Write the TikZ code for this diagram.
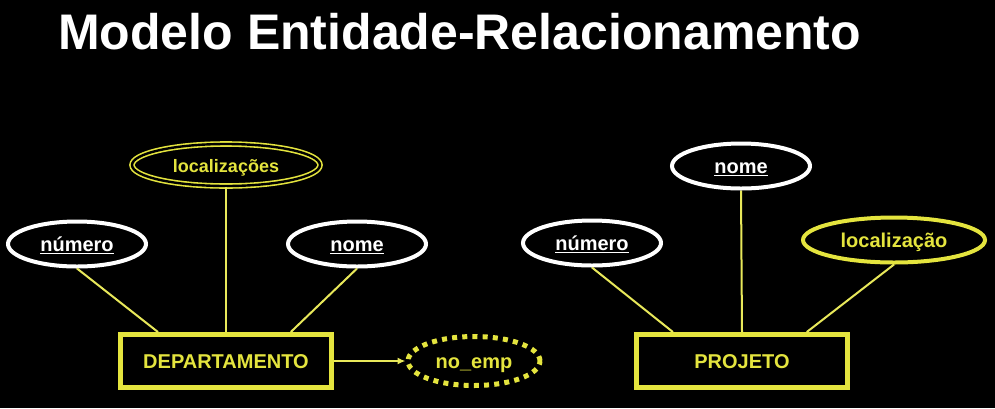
\documentclass[tikz,border=0pt]{standalone}
\usepackage{fontspec}
\setmainfont{Liberation Sans}
\usepackage{tikz}
\usetikzlibrary{arrows.meta,positioning,calc,shapes.geometric}
\definecolor{erYellow}{RGB}{228,228,62}
\definecolor{erLine}{RGB}{232,232,90}
\tikzset{
  attr/.style={draw=white, ellipse, line width=4pt, inner sep=0pt,
               minimum width=138pt, minimum height=45pt, text=white,
               text height=15pt, text depth=0pt,
               font=\fontsize{20}{24}\selectfont\bfseries},
  multiattr/.style={draw=erYellow, ellipse, double=black, line width=1.6pt,
               double distance=2.4pt, inner sep=0pt, minimum width=188pt,
               minimum height=42pt, text=erYellow,
               text height=14pt, text depth=0pt,
               font=\fontsize{18}{22}\selectfont\bfseries},
  yattr/.style={attr, draw=erYellow, text=erYellow, minimum width=182pt},
  derivattr/.style={attr, draw=erYellow, text=erYellow, line width=5pt,
               dash pattern=on 5pt off 5.2pt, minimum width=132pt,
               minimum height=49pt},
  entity/.style={draw=erYellow, line width=5pt, inner sep=0pt,
               minimum width=211pt, minimum height=53pt, text=erYellow,
               text height=15pt, text depth=0pt,
               font=\fontsize{20}{24}\selectfont\bfseries},
  conn/.style={draw=erLine, line width=2pt},
  connarrow/.style={conn, -{Latex[length=8pt,width=7pt]}}
}

\begin{document}
\begin{tikzpicture}[x=1pt, y=-1pt]
\useasboundingbox (0,0) rectangle (995,408);
\fill[black] (0,0) rectangle (995,408);
\node[anchor=base west, text=white, inner sep=0pt,
      font=\fontsize{50}{60}\selectfont\bfseries] (title) at (58,49)
      {Modelo Entidade-Relacionamento};

% DEPARTAMENTO
\node[entity] (dep) at (226,361) {DEPARTAMENTO};
\node[attr] (depnum) at (77,244) {\underline{número}};
\node[multiattr] (deploc) at (226,165) {localizações};
\node[attr] (depnome) at (357,244) {\underline{nome}};
\node[derivattr] (noemp) at (474,361) {no\_emp};
\draw[conn] (depnum.south) -- ($(dep.north west)!0.185!(dep.north east)$);
\draw[conn] (deploc.south) -- (dep.north);
\draw[conn] (depnome.south) -- ($(dep.north west)!0.80!(dep.north east)$);
\draw[connarrow] (dep.east) -- (noemp.west);

% PROJETO
\node[entity] (proj) at (742,361) {PROJETO};
\node[attr] (projnum) at (592,243) {\underline{número}};
\node[attr] (projnome) at (741,166) {\underline{nome}};
\node[yattr] (projloc) at (894,240) {localização};
\draw[conn] (projnum.south) -- ($(proj.north west)!0.18!(proj.north east)$);
\draw[conn] (projnome.south) -- (proj.north);
\draw[conn] (projloc.south) -- ($(proj.north west)!0.80!(proj.north east)$);
\end{tikzpicture}
\end{document}
